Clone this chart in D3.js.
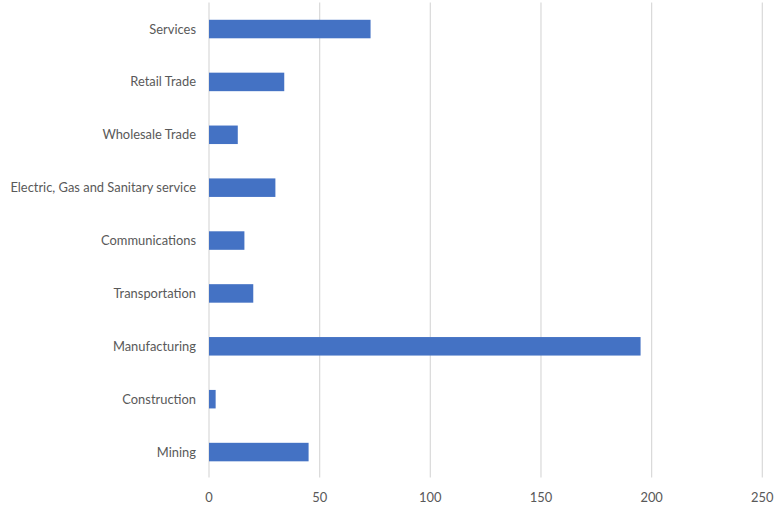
<!DOCTYPE html>
<html><head><meta charset="utf-8">
<script src="https://cdn.jsdelivr.net/npm/d3@7"></script>
<style>body{margin:0;background:#fff}svg{display:block}</style>
</head><body>
<svg id="c" width="775" height="508"></svg>
<script>
const categories = ["Services","Retail Trade","Wholesale Trade","Electric, Gas and Sanitary service","Communications","Transportation","Manufacturing","Construction","Mining"];
const values = [73, 34, 13, 30, 16, 20, 195, 3, 45];
const xTicks = [0, 50, 100, 150, 200, 250];

(function () {
const svg = d3.select("#c");
const mLeft = 209, mRight = 762.3, mTop = 2.6, mBottom = 478.5;
const font = "Lato, 'Open Sans', sans-serif";
const x = d3.scaleLinear().domain([0, 250]).range([mLeft, mRight]);
const y = d3.scaleBand().domain(categories).range([mTop, mBottom]).paddingInner(0.65).paddingOuter(0.325);

svg.append("g").selectAll("line").data(xTicks).join("line")
  .attr("x1", d => x(d)).attr("x2", d => x(d))
  .attr("y1", mTop).attr("y2", mBottom - 1)
  .attr("stroke", "#d9d9d9").attr("stroke-width", 1.2);

svg.append("g").selectAll("rect").data(categories).join("rect")
  .attr("x", x(0)).attr("y", d => y(d))
  .attr("width", (d, i) => x(values[i]) - x(0))
  .attr("height", y.bandwidth())
  .attr("fill", "#4472c4");

svg.append("g").selectAll("text").data(categories).join("text")
  .attr("x", 196).attr("y", d => y(d) + y.bandwidth() / 2)
  .attr("dy", "0.35em").attr("text-anchor", "end")
  .attr("font-family", font).attr("font-size", 12.9).attr("fill", "#595959")
  .text(d => d);

svg.append("g").selectAll("text").data(xTicks).join("text")
  .attr("x", d => x(d)).attr("y", 497).attr("dy", "0.35em")
  .attr("text-anchor", "middle")
  .attr("font-family", font).attr("font-size", 12.9).attr("fill", "#595959")
  .text(d => d);
})();
</script>
</body></html>
